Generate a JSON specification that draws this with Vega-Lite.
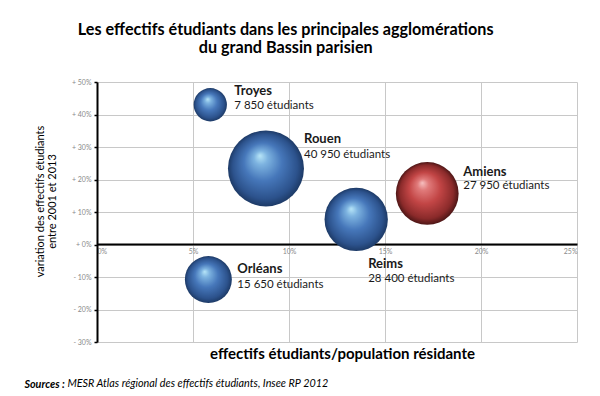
{
  "$schema": "https://vega.github.io/schema/vega-lite/v6.json",
  "padding": {"left": 24, "top": 21, "right": 5, "bottom": 5},
  "background": "white",
  "config": {"font": "Lato", "view": {"stroke": null}, "concat": {"spacing": 0}},
  "title": {
    "text": ["Les effectifs étudiants dans les principales agglomérations", "du grand Bassin parisien"],
    "font": "Lato", "fontSize": 16.2, "fontWeight": "bold", "color": "#000000",
    "anchor": "middle", "lineHeight": 18, "offset": 22, "dx": -15
  },
  "vconcat": [
    {
      "title": {
        "text": "Sources :",
        "orient": "bottom", "anchor": "start", "font": "Lato", "fontSize": 10.8,
        "fontStyle": "italic", "fontWeight": "bold", "color": "#000000", "offset": 0, "dy": -10, "dx": -10
      },
      "vconcat": [
        {
          "width": 480,
          "height": 260,
          "title": {
            "text": "MESR Atlas régional des effectifs étudiants, Insee RP 2012",
            "orient": "bottom", "anchor": "start", "font": "Lato", "fontSize": 10.8,
            "fontStyle": "italic", "fontWeight": "normal", "color": "#000000", "offset": 17, "dx": 33
          },
          "data": {
            "values": [
              {"ville": "Troyes", "ratio": 0.059, "variation": 0.43, "etudiants": 7850, "libelle": "7 850 étudiants"},
              {"ville": "Rouen", "ratio": 0.088, "variation": 0.234, "etudiants": 40950, "libelle": "40 950 étudiants"},
              {"ville": "Reims", "ratio": 0.135, "variation": 0.077, "etudiants": 28400, "libelle": "28 400  étudiants"},
              {"ville": "Amiens", "ratio": 0.172, "variation": 0.157, "etudiants": 27950, "libelle": "27 950  étudiants"},
              {"ville": "Orléans", "ratio": 0.058, "variation": -0.108, "etudiants": 15650, "libelle": "15 650 étudiants"}
            ]
          },
          "encoding": {
            "x": {
              "field": "ratio", "type": "quantitative",
              "scale": {"domain": [0, 0.25], "nice": false, "zero": false},
              "axis": {
                "values": [0, 0.05, 0.1, 0.15, 0.2, 0.25], "format": ".0%", "offset": -98,
                "labelFontSize": 7, "labelColor": "#8a8a8a", "labelPadding": 3, "ticks": false,
                "domainColor": "#000000", "domainWidth": 2, "grid": true, "gridColor": "#c8c8c8", "gridWidth": 1,
                "title": "effectifs étudiants/population résidante", "titleFont": "Lato", "titleFontSize": 15,
                "titleFontWeight": "bold", "titleColor": "#000000", "titleX": 245, "titleY": 114,
                "titleBaseline": "alphabetic", "titleAlign": "center"
              }
            },
            "y": {
              "field": "variation", "type": "quantitative",
              "scale": {"domain": [-0.3, 0.5], "nice": false, "zero": false},
              "axis": {
                "values": [-0.3, -0.2, -0.1, 0, 0.1, 0.2, 0.3, 0.4, 0.5],
                "labelExpr": "datum.value >= 0 ? '+ ' + format(datum.value, '.0%') : '- ' + format(-datum.value, '.0%')",
                "labelFontSize": 7, "labelColor": "#8a8a8a", "labelPadding": 3,
                "tickColor": "#000000", "tickSize": 3, "tickWidth": 1.5,
                "domainColor": "#000000", "domainWidth": 2, "grid": true, "gridColor": "#c8c8c8", "gridWidth": 1,
                "title": ["variation des effectifs étudiants", "entre 2001  et 2013"],
                "titleFont": "Lato", "titleFontSize": 11, "titleFontWeight": "normal", "titleColor": "#000000",
                "titlePadding": 14, "titleLineHeight": 12, "titleY": 119
              }
            },
            "size": {
              "field": "etudiants", "type": "quantitative",
              "scale": {"domain": [0, 40950], "range": [0, 5776], "zero": true},
              "legend": null
            }
          },
          "layer": [
            {
              "transform": [{"filter": "datum.ville !== 'Amiens'"}],
              "mark": {
                "type": "point", "shape": "circle", "filled": true, "opacity": 1, "strokeWidth": 0,
                "fill": {
                  "gradient": "radial", "x1": 0.42, "y1": 0.33, "r1": 0, "x2": 0.5, "y2": 0.5, "r2": 0.5,
                  "stops": [
                    {"offset": 0, "color": "#b8e6f8"},
                    {"offset": 0.18, "color": "#7db3e0"},
                    {"offset": 0.5, "color": "#4677ba"},
                    {"offset": 0.85, "color": "#2c528c"},
                    {"offset": 1, "color": "#1d3a66"}
                  ]
                }
              }
            },
            {
              "transform": [{"filter": "datum.ville === 'Amiens'"}],
              "mark": {
                "type": "point", "shape": "circle", "filled": true, "opacity": 1, "strokeWidth": 0,
                "fill": {
                  "gradient": "radial", "x1": 0.42, "y1": 0.33, "r1": 0, "x2": 0.5, "y2": 0.5, "r2": 0.5,
                  "stops": [
                    {"offset": 0, "color": "#f6c0c0"},
                    {"offset": 0.18, "color": "#e07a7a"},
                    {"offset": 0.5, "color": "#c24545"},
                    {"offset": 0.85, "color": "#8a2a2a"},
                    {"offset": 1, "color": "#4d1616"}
                  ]
                }
              }
            },
            {
              "transform": [{"filter": "datum.ville === 'Troyes'"}],
              "layer": [
                {"mark": {"type": "text", "align": "left", "baseline": "alphabetic", "dx": 24, "dy": -10, "font": "Lato", "fontSize": 13, "fontWeight": "bold", "color": "#1a1a1a"}, "encoding": {"text": {"field": "ville"}, "size": {"value": 13}}},
                {"mark": {"type": "text", "align": "left", "baseline": "alphabetic", "dx": 24, "dy": 4, "font": "Lato", "fontSize": 11.5, "color": "#1a1a1a"}, "encoding": {"text": {"field": "libelle"}, "size": {"value": 11.5}}}
              ]
            },
            {
              "transform": [{"filter": "datum.ville === 'Rouen'"}],
              "layer": [
                {"mark": {"type": "text", "align": "left", "baseline": "alphabetic", "dx": 38, "dy": -25, "font": "Lato", "fontSize": 13, "fontWeight": "bold", "color": "#1a1a1a"}, "encoding": {"text": {"field": "ville"}, "size": {"value": 13}}},
                {"mark": {"type": "text", "align": "left", "baseline": "alphabetic", "dx": 38, "dy": -10, "font": "Lato", "fontSize": 11.5, "color": "#1a1a1a"}, "encoding": {"text": {"field": "libelle"}, "size": {"value": 11.5}}}
              ]
            },
            {
              "transform": [{"filter": "datum.ville === 'Amiens'"}],
              "layer": [
                {"mark": {"type": "text", "align": "left", "baseline": "alphabetic", "dx": 36, "dy": -17, "font": "Lato", "fontSize": 13, "fontWeight": "bold", "color": "#1a1a1a"}, "encoding": {"text": {"field": "ville"}, "size": {"value": 13}}},
                {"mark": {"type": "text", "align": "left", "baseline": "alphabetic", "dx": 36, "dy": -4, "font": "Lato", "fontSize": 11.5, "color": "#1a1a1a"}, "encoding": {"text": {"field": "libelle"}, "size": {"value": 11.5}}}
              ]
            },
            {
              "transform": [{"filter": "datum.ville === 'Reims'"}],
              "layer": [
                {"mark": {"type": "text", "align": "left", "baseline": "alphabetic", "dx": 12, "dy": 49, "font": "Lato", "fontSize": 13, "fontWeight": "bold", "color": "#1a1a1a"}, "encoding": {"text": {"field": "ville"}, "size": {"value": 13}}},
                {"mark": {"type": "text", "align": "left", "baseline": "alphabetic", "dx": 12, "dy": 63, "font": "Lato", "fontSize": 11.5, "color": "#1a1a1a"}, "encoding": {"text": {"field": "libelle"}, "size": {"value": 11.5}}}
              ]
            },
            {
              "transform": [{"filter": "datum.ville === 'Orléans'"}],
              "layer": [
                {"mark": {"type": "text", "align": "left", "baseline": "alphabetic", "dx": 29, "dy": -7, "font": "Lato", "fontSize": 13, "fontWeight": "bold", "color": "#1a1a1a"}, "encoding": {"text": {"field": "ville"}, "size": {"value": 13}}},
                {"mark": {"type": "text", "align": "left", "baseline": "alphabetic", "dx": 29, "dy": 8, "font": "Lato", "fontSize": 11.5, "color": "#1a1a1a"}, "encoding": {"text": {"field": "libelle"}, "size": {"value": 11.5}}}
              ]
            }
          ]
        }
      ]
    }
  ]
}
